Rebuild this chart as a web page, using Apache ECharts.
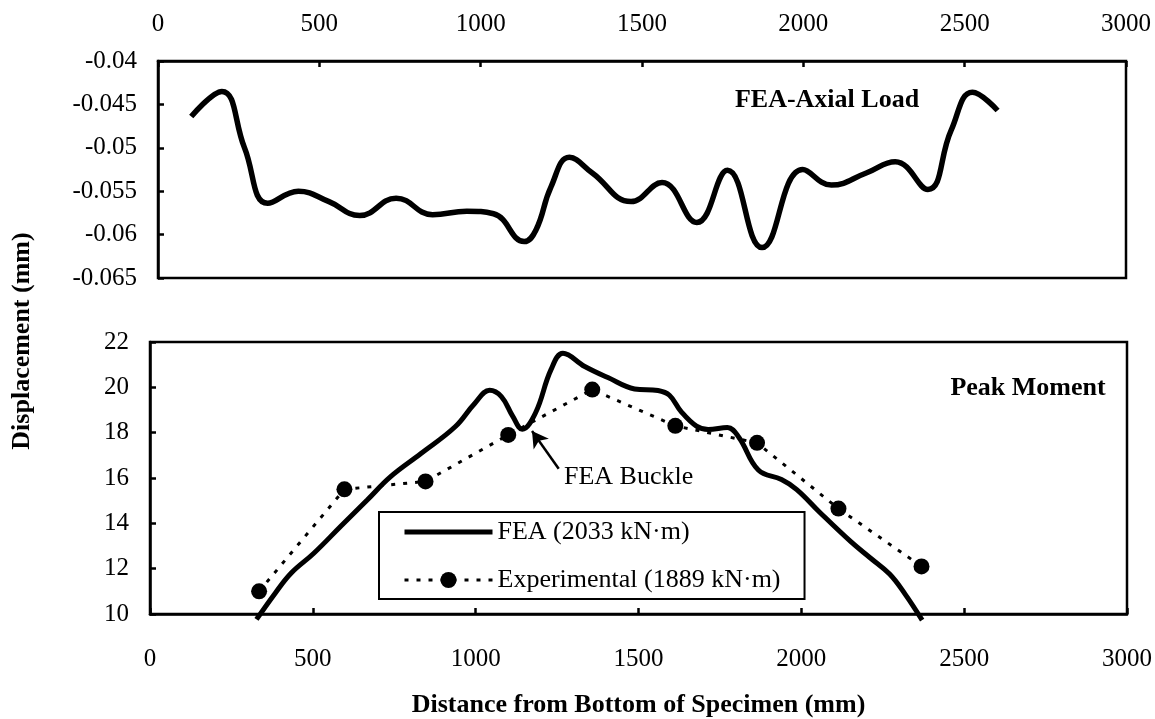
<!DOCTYPE html>
<html>
<head>
<meta charset="utf-8">
<title>Displacement along specimen</title>
<script src="https://cdn.jsdelivr.net/npm/echarts@6/dist/echarts.min.js"></script>
<style>
  html, body { margin: 0; padding: 0; background: #fff; }
  #chart { width: 1155px; height: 719px; }
</style>
</head>
<body>
<div id="chart"></div>
<script>
// Distance ticks shared by both panels (mm)
const distanceTicks = [0, 500, 1000, 1500, 2000, 2500, 3000];
const axialTicks = [-0.065, -0.06, -0.055, -0.05, -0.045, -0.04];
const momentTicks = [10, 12, 14, 16, 18, 20, 22];

// Upper panel: FEA under axial load
const axialDist = [103, 198, 268, 340, 435, 530, 625, 738, 851, 957, 1040, 1135, 1171, 1218, 1275, 1346, 1466, 1562, 1670, 1765, 1872, 1998, 2087, 2195, 2285, 2386, 2458, 2524, 2602];
const axialDisp = [-0.0464, -0.0435, -0.0500, -0.0564, -0.0550, -0.0562, -0.0578, -0.0558, -0.0577, -0.0573, -0.0576, -0.0608, -0.0595, -0.0545, -0.0511, -0.0529, -0.0562, -0.0540, -0.0586, -0.0526, -0.0615, -0.0525, -0.0543, -0.0529, -0.0516, -0.0548, -0.0480, -0.0436, -0.0457];

// Lower panel: FEA at peak moment
const feaDist = [327, 385, 433, 503, 585, 667, 738, 832, 937, 997, 1043, 1079, 1114, 1143, 1184, 1231, 1268, 1335, 1406, 1488, 1560, 1595, 1631, 1678, 1714, 1773, 1808, 1868, 1939, 1986, 2057, 2152, 2212, 2271, 2318, 2371];
const feaDisp = [9.76, 10.93, 11.80, 12.68, 13.86, 15.03, 16.05, 17.08, 18.26, 19.29, 19.87, 19.59, 18.72, 18.15, 18.88, 20.77, 21.50, 20.92, 20.43, 19.93, 19.86, 19.65, 18.93, 18.29, 18.14, 18.23, 17.80, 16.35, 15.93, 15.49, 14.48, 13.19, 12.47, 11.76, 10.89, 9.73];

// Lower panel: measured displacements
const expDist = [335, 597, 846, 1100, 1358, 1613, 1864, 2114, 2369];
const expDisp = [11.0, 15.5, 15.85, 17.9, 19.9, 18.3, 17.55, 14.65, 12.1];

// Buckle arrow: tail and tip in data units
const buckleTail = [1255, 16.41];
const buckleTip = [1173, 18.07];

const seriesNames = ['FEA (2033 kN\u00B7m)', 'Experimental (1889 kN\u00B7m)'];

const FONT = '"Liberation Serif", "Times New Roman", serif';
const BLACK = '#000';
const EXP_DASH = [4, 8];

const zip = (xs, ys) => xs.map((x, i) => [x, ys[i]]);

function xAxisFor(grid, position, margin) {
  return {
    gridIndex: grid, type: 'value', position: position,
    min: distanceTicks[0], max: distanceTicks[distanceTicks.length - 1],
    interval: distanceTicks[1] - distanceTicks[0],
    axisLine: { show: true, onZero: false, lineStyle: { color: BLACK, width: 2.5 } },
    axisTick: { show: true, inside: true, length: 6, lineStyle: { color: BLACK, width: 2.5 } },
    axisLabel: { margin: margin, color: BLACK, fontSize: 25, fontFamily: FONT,
      formatter: v => String(v) },
    splitLine: { show: false }
  };
}

function yAxisFor(grid, ticks) {
  return {
    gridIndex: grid, type: 'value',
    min: ticks[0], max: ticks[ticks.length - 1],
    interval: +(ticks[1] - ticks[0]).toFixed(6),
    axisLine: { show: true, onZero: false, lineStyle: { color: BLACK, width: 2.5 } },
    axisTick: { show: true, inside: true, length: 6, lineStyle: { color: BLACK, width: 2.5 } },
    axisLabel: { margin: 21, color: BLACK, fontSize: 25, fontFamily: FONT,
      formatter: v => String(+v.toFixed(4)) },
    splitLine: { show: false }
  };
}

const chart = echarts.init(document.getElementById('chart'), null, { renderer: 'canvas' });

const bottomX = xAxisFor(1, 'bottom', 33);
bottomX.name = 'Distance from Bottom of Specimen (mm)';
bottomX.nameLocation = 'middle';
bottomX.nameGap = 78;
bottomX.nameTextStyle = { color: BLACK, fontSize: 26, fontWeight: 'bold', fontFamily: FONT };

chart.setOption({
  animation: false,
  backgroundColor: '#fff',
  textStyle: { fontFamily: FONT, color: BLACK },
  grid: [
    { left: 158, right: 29, top: 61, height: 217, show: true, borderColor: BLACK, borderWidth: 2.5, backgroundColor: 'transparent' },
    { left: 150, right: 28, top: 342, height: 276, show: true, borderColor: BLACK, borderWidth: 2.5, backgroundColor: 'transparent' }
  ],
  xAxis: [xAxisFor(0, 'top', 24), bottomX],
  yAxis: [yAxisFor(0, axialTicks), yAxisFor(1, momentTicks)],
  legend: {
    data: [
      { name: seriesNames[0], itemStyle: { opacity: 0 }, lineStyle: { color: BLACK, width: 5, type: 'solid' } },
      { name: seriesNames[1], itemStyle: { color: BLACK }, lineStyle: { color: BLACK, width: 3, type: EXP_DASH } }
    ],
    orient: 'vertical',
    left: 379, top: 512,
    itemWidth: 88, itemHeight: 20, itemGap: 22,
    padding: [7, 24, 6, 23],
    borderColor: BLACK, borderWidth: 2,
    backgroundColor: '#fff',
    selectedMode: false,
    textStyle: { color: BLACK, fontSize: 26, fontFamily: FONT, lineHeight: 25 }
  },
  series: [
    {
      name: 'FEA-Axial Load', type: 'line', xAxisIndex: 0, yAxisIndex: 0,
      data: zip(axialDist, axialDisp), smooth: 0.45, symbol: 'none',
      lineStyle: { color: BLACK, width: 5.5 }, z: 3
    },
    {
      name: seriesNames[0], type: 'line', xAxisIndex: 1, yAxisIndex: 1,
      data: zip(feaDist, feaDisp), smooth: 0.4, symbol: 'none', clip: false,
      itemStyle: { color: BLACK },
      lineStyle: { color: BLACK, width: 5 }, z: 3,
      markLine: {
        silent: true, symbol: ['none', 'arrow'], symbolSize: [14, 16],
        label: { show: false },
        lineStyle: { color: BLACK, width: 2.5, type: 'solid' },
        data: [[{ coord: buckleTail }, { coord: buckleTip }]]
      }
    },
    {
      name: seriesNames[1], type: 'line', xAxisIndex: 1, yAxisIndex: 1,
      data: zip(expDist, expDisp), symbol: 'circle', symbolSize: 16, showSymbol: true,
      itemStyle: { color: BLACK },
      lineStyle: { color: BLACK, width: 3, type: EXP_DASH }, z: 4
    }
  ],
  graphic: [
    {
      type: 'text', x: 22, y: 341, rotation: Math.PI / 2,
      style: { text: 'Displacement (mm)', fill: BLACK, fontSize: 26, fontWeight: 'bold', fontFamily: FONT, align: 'center', verticalAlign: 'middle' }
    },
    {
      type: 'text', x: 827, y: 100,
      style: { text: 'FEA-Axial Load', fill: BLACK, fontSize: 26, fontWeight: 'bold', fontFamily: FONT, align: 'center', verticalAlign: 'middle' }
    },
    {
      type: 'text', x: 1028, y: 388,
      style: { text: 'Peak Moment', fill: BLACK, fontSize: 26, fontWeight: 'bold', fontFamily: FONT, align: 'center', verticalAlign: 'middle' }
    },
    {
      type: 'text', x: 564, y: 477,
      style: { text: 'FEA Buckle', fill: BLACK, fontSize: 26, fontFamily: FONT, align: 'left', verticalAlign: 'middle' }
    }
  ]
});
</script>
</body>
</html>
